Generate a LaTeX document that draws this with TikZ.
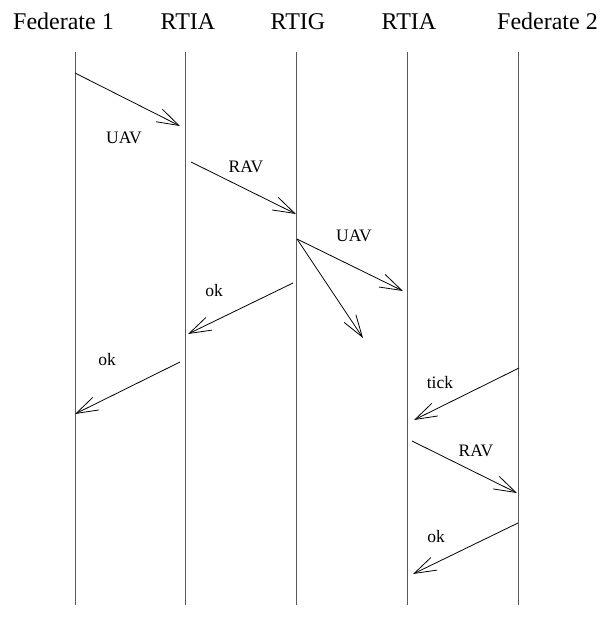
\documentclass[tikz,border=0pt]{standalone}
\usepackage{fontspec}
\setmainfont{Liberation Serif}
\usetikzlibrary{arrows.meta}
\begin{document}
\begin{tikzpicture}[x=1pt,y=-1pt,
  head/.style={font=\fontsize{24}{27}\selectfont, inner sep=0pt, anchor=base},
  lbl/.style={font=\fontsize{17.5}{20}\selectfont, inner sep=0pt},
  life/.style={draw=black!65, line width=1pt},
  msg/.style={draw=black, line width=0.8pt, -{Straight Barb[length=22pt,width=14pt,line width=0.8pt]}}]
\useasboundingbox (0,0) rectangle (605,635);
% headers
\node[head] (h1) at (63.5,29) {Federate 1};
\node[head] (h2) at (188,29) {RTIA};
\node[head] (h3) at (298,29) {RTIG};
\node[head] (h4) at (409,29) {RTIA};
\node[head] (h5) at (547.5,29) {Federate 2};
% lifelines
\foreach \n/\x in {1/75,2/185,3/296,4/407,5/518}{
  \coordinate (t\n) at (\x,52);
  \coordinate (b\n) at (\x,605);
  \draw[life] (t\n) -- (b\n);
}
% message end points
\coordinate (m1s) at (75,73);   \coordinate (m1e) at (180,126);
\coordinate (m2s) at (191,162); \coordinate (m2e) at (296,214);
\coordinate (m3s) at (297,239); \coordinate (m3e) at (403,291);
\coordinate (m4e) at (363,338);
\coordinate (m5s) at (293,283); \coordinate (m5e) at (188,334);
\coordinate (m6s) at (180,362); \coordinate (m6e) at (75,414);
\coordinate (m7s) at (519,368); \coordinate (m7e) at (414,420);
\coordinate (m8s) at (412,441); \coordinate (m8e) at (517,493);
\coordinate (m9s) at (518,523); \coordinate (m9e) at (413,574);
% messages
\draw[msg] (m1s) -- (m1e);
\draw[msg] (m2s) -- (m2e);
\draw[msg] (m3s) -- (m3e);
\draw[msg] (m3s) -- (m4e);
\draw[msg] (m5s) -- (m5e);
\draw[msg] (m6s) -- (m6e);
\draw[msg] (m7s) -- (m7e);
\draw[msg] (m8s) -- (m8e);
\draw[msg] (m9s) -- (m9e);
% labels
\node[lbl] (l1) at (124,138) {UAV};
\node[lbl] (l2) at (246,167) {RAV};
\node[lbl] (l3) at (354,236) {UAV};
\node[lbl] (l4) at (214,291) {ok};
\node[lbl] (l5) at (107,360) {ok};
\node[lbl] (l6) at (440,383) {tick};
\node[lbl] (l7) at (476,451) {RAV};
\node[lbl] (l8) at (436,537) {ok};
\end{tikzpicture}
\end{document}
